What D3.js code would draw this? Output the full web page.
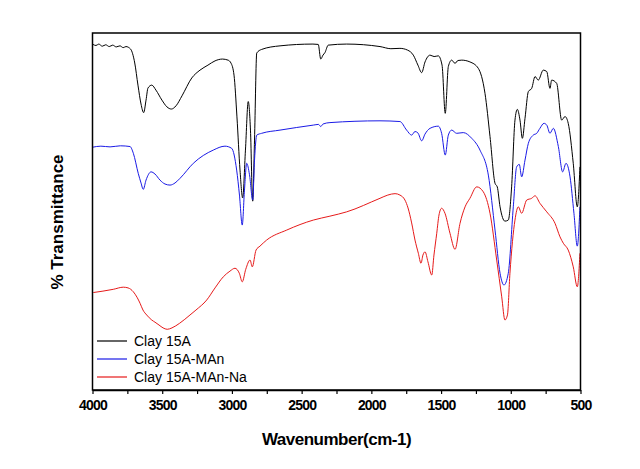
<!DOCTYPE html>
<html><head><meta charset="utf-8">
<script src="https://cdn.jsdelivr.net/npm/d3@7"></script>
<style>html,body{margin:0;padding:0;background:#fff;}svg{display:block;}</style>
</head><body>
<svg id="chart" width="640" height="469"></svg>
<script>
// Wavenumber (cm-1) and % transmittance (arbitrary, offset) for each spectrum
const clay15A_w = [3996,3975,3955,3930,3905,3880,3855,3830,3803,3780,3760,3727,3697,3674,3652,3633,3616,3602,3575,3545,3502,3466,3434,3401,3358,3288,3229,3172,3121,3068,3028,3007,2985,2964,2942,2923,2903,2883,2867,2851,2838,2822,2787,2655,2419,2381,2363,2347,2333,2309,2177,1938,1860,1795,1740,1699,1666,1639,1615,1579,1550,1520,1493,1470,1448,1424,1400,1379,1352,1293,1233,1185,1149,1113,1097,1077,1042,1018,994,970,953,934,917,898,874,850,826,803,767,742,719,707,671,635,611,588,552,523,504];
const clay15A_t = [96.8,96.5,96.9,96.3,96.7,96.2,96.6,96.1,96.4,95.9,96.2,95.5,91.6,85.4,80.1,77.7,81.2,84.6,85.4,84.0,81.2,79.3,78.7,79.6,82.4,87.4,89.6,91.0,92.2,92.7,92.4,91.6,88.2,76.5,61.6,53.8,67.2,80.8,72.8,52.9,70.0,94.4,95.4,96.4,96.9,96.8,92.7,93.8,94.5,96.6,96.9,96.2,95.6,95.7,95.2,93.8,91.0,88.9,91.9,93.8,93.4,93.6,91.0,77.5,90.6,92.4,91.5,92.3,92.4,91.9,90.1,83.1,71.0,57.9,56.9,51.3,47.3,47.6,56.9,75.6,78.6,75.6,70.5,76.1,83.6,84.5,87.8,86.8,89.6,89.2,84.5,86.8,85.9,75.6,76.6,74.7,63.5,51.3,62.5];

const clay15AMAn_w = [4000,3940,3874,3800,3731,3707,3672,3652,3636,3616,3580,3552,3516,3480,3444,3408,3372,3277,3134,3050,3002,2966,2946,2926,2910,2894,2874,2851,2838,2822,2787,2655,2416,2379,2363,2347,2297,1938,1795,1747,1711,1687,1666,1639,1615,1579,1520,1496,1470,1448,1424,1388,1341,1280,1221,1161,1113,1077,1049,1018,982,958,939,922,898,874,839,814,791,762,742,719,695,659,628,604,575,547,523,504];
const clay15AMAn_t = [68.0,68.3,68.1,68.4,68.2,66.3,60.7,58.0,56.2,58.8,61.1,60.5,58.8,57.7,57.4,58.0,59.3,63.5,67.2,68.3,67.7,61.6,54.6,46.2,56.0,63.5,60.3,53.2,64.4,71.4,71.9,72.8,74.2,74.4,73.8,74.5,74.9,75.4,75.2,72.8,71.4,72.4,72.0,69.8,71.7,73.3,73.9,71.9,65.8,71.4,72.8,71.9,72.1,70.5,67.2,60.2,44.8,32.7,29.4,32.7,51.3,62.5,63.2,59.7,64.4,69.1,71.4,71.9,73.3,74.7,74.2,71.9,73.3,68.2,61.1,63.5,59.7,49.5,40.3,51.3];

const clay15AMAnNa_w = [3994,3925,3851,3779,3745,3707,3681,3659,3638,3611,3575,3552,3523,3494,3464,3430,3375,3301,3258,3181,3121,3062,3014,2978,2947,2926,2901,2870,2854,2827,2799,2751,2607,2416,2297,2177,1938,1882,1830,1795,1759,1737,1711,1687,1663,1644,1630,1615,1594,1567,1551,1531,1515,1496,1472,1436,1400,1364,1328,1293,1244,1197,1149,1101,1065,1042,1024,1006,970,946,922,886,850,826,791,742,683,647,623,588,552,523,504];
const clay15AMAnNa_t = [27.3,27.7,28.2,28.8,28.6,27.5,26.0,24.3,22.4,21.0,19.6,19.0,18.2,17.4,17.0,17.4,18.7,21.0,22.4,25.2,28.6,31.7,33.3,34.1,32.7,30.3,33.8,36.4,34.5,39.2,40.3,42.0,44.8,47.6,48.7,49.9,53.7,54.6,55.0,54.6,53.2,51.0,46.8,42.0,38.3,35.5,37.8,38.7,35.9,32.2,37.8,43.9,49.0,50.9,49.5,43.9,39.4,46.7,51.3,53.7,56.9,55.5,49.5,36.4,26.1,19.6,21.0,32.7,47.6,51.3,49.5,53.2,53.7,54.4,52.3,49.9,46.7,42.9,41.1,39.2,34.5,28.9,38.3];

const seriesNames = ["Clay 15A","Clay 15A-MAn","Clay 15A-MAn-Na"];
const seriesColors = ["#000000","#1a1ae6","#e61a1a"];
const xTickLabels = [4000,3500,3000,2500,2000,1500,1000,500];

const series = [
  {name: seriesNames[0], color: seriesColors[0], w: clay15A_w, t: clay15A_t},
  {name: seriesNames[1], color: seriesColors[1], w: clay15AMAn_w, t: clay15AMAn_t},
  {name: seriesNames[2], color: seriesColors[2], w: clay15AMAnNa_w, t: clay15AMAnNa_t}
];

const svg = d3.select("#chart");
const L = 92.5, R = 580.5, T = 33, B = 390;
const x = d3.scaleLinear().domain([4000, 500]).range([L, R]);
const y = d3.scaleLinear().domain([0, 100]).range([B, T]);

const line = d3.line().x(d => x(d[0])).y(d => y(d[1])).curve(d3.curveMonotoneX);

const plot = svg.append("g");
series.forEach(s => {
  plot.append("path")
    .datum(s.w.map((w, i) => [w, s.t[i]]))
    .attr("fill", "none")
    .attr("stroke", s.color)
    .attr("stroke-width", 1)
    .attr("d", line);
});

// frame
svg.append("rect").attr("x", L).attr("y", T).attr("width", R - L).attr("height", B - T)
  .attr("fill", "none").attr("stroke", "#000").attr("stroke-width", 1.5);

// x axis
const ax = svg.append("g").attr("transform", `translate(0,${B})`)
  .call(d3.axisBottom(x).tickValues(d3.range(4000, 499, -250)).tickSize(4).tickSizeOuter(0)
    .tickFormat(d => xTickLabels.includes(d) ? d : ""));
ax.select(".domain").attr("stroke", "#000").attr("stroke-width", 1.5);
ax.selectAll(".tick line").attr("stroke", "#000").attr("stroke-width", 1.2);
ax.selectAll(".tick text")
  .attr("y", 10).attr("dy", "0.71em")
  .attr("font-family", "Liberation Sans, Arial, sans-serif")
  .attr("font-size", 14).attr("font-weight", "bold")
  .attr("letter-spacing", "-0.8px")
  .attr("fill", "#000");

svg.append("text").attr("x", (L + R) / 2).attr("y", 445)
  .attr("text-anchor", "middle")
  .attr("font-family", "Liberation Sans, Arial, sans-serif")
  .attr("font-size", 17).attr("font-weight", "bold").attr("letter-spacing", "-0.5px")
  .text("Wavenumber(cm-1)");

svg.append("text").attr("transform", "translate(63,222) rotate(-90)")
  .attr("text-anchor", "middle")
  .attr("font-family", "Liberation Sans, Arial, sans-serif")
  .attr("font-size", 17).attr("font-weight", "bold")
  .text("% Transmittance");

// legend
const lg = svg.append("g");
series.forEach((s, i) => {
  const yy = 341 + i * 18;
  lg.append("line").attr("x1", 97).attr("x2", 127).attr("y1", yy).attr("y2", yy)
    .attr("stroke", s.color).attr("stroke-width", 1.2);
  lg.append("text").attr("x", 134).attr("y", yy + 5)
    .attr("font-family", "Liberation Sans, Arial, sans-serif")
    .attr("font-size", 14).attr("fill", "#000")
    .text(s.name);
});
</script>
</body></html>
